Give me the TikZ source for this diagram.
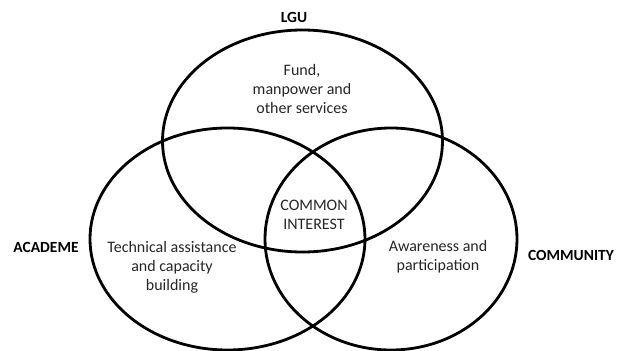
\documentclass[tikz,border=0pt]{standalone}
\usepackage{fontspec}
\setmainfont{Carlito}
\begin{document}
\begin{tikzpicture}[x=1pt,y=-1pt,
  ring/.style={draw=black,line width=2.8pt},
  body/.style={align=center,font=\fontsize{16}{19}\selectfont,text=black!85,inner sep=0pt},
  tag/.style={font=\fontsize{15.5}{17}\selectfont\bfseries,inner sep=0pt}]
  \useasboundingbox (0,0) rectangle (625,351);
  % the three overlapping sets
  \draw[ring] (302.5,141) ellipse [x radius=140, y radius=111];
  \draw[ring] (227.5,239) ellipse [x radius=137.5, y radius=111];
  \draw[ring] (391,239) ellipse [x radius=126, y radius=111];
  % set names
  \node[tag] (lgu) at (294,17) {LGU};
  \node[tag] (academe) at (46,247) {ACADEME};
  \node[tag] (community) at (571,255) {COMMUNITY};
  % contributions of each set
  \node[body] (fund) at (302,89) {Fund,\\manpower and\\other services};
  \node[body] (tech) at (172,267) {Technical assistance\\and capacity\\building};
  \node[body] (aware) at (438,257) {Awareness and\\participation};
  \node[body] (common) at (314,215) {COMMON\\INTEREST};
\end{tikzpicture}
\end{document}
